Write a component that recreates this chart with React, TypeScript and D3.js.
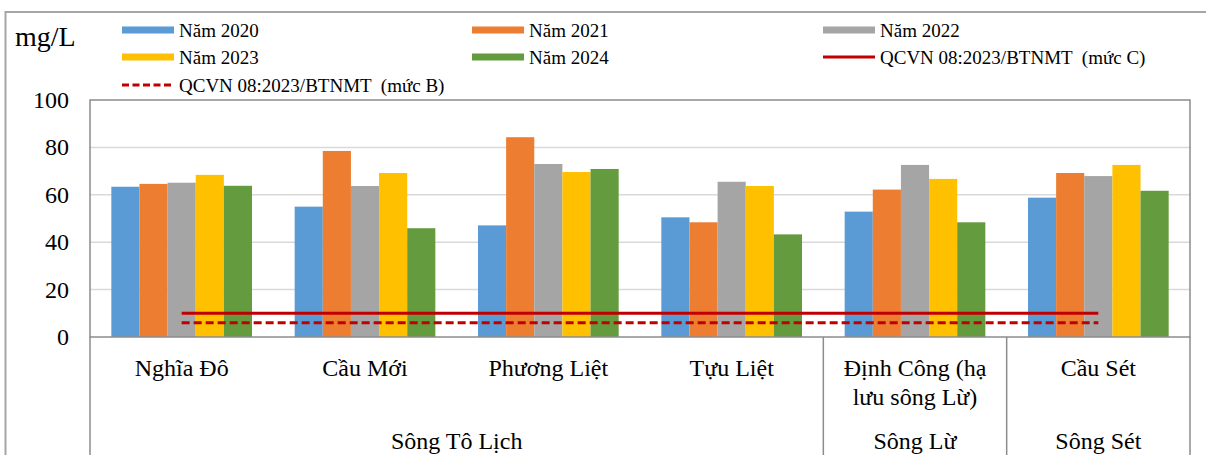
import React from "react";
import * as d3 from "d3";

const categories = ["Nghĩa Đô", "Cầu Mới", "Phương Liệt", "Tựu Liệt", "Định Công (hạ lưu sông Lừ)", "Cầu Sét"];
const categoryLines = [["Nghĩa Đô"], ["Cầu Mới"], ["Phương Liệt"], ["Tựu Liệt"], ["Định Công (hạ", "lưu sông Lừ)"], ["Cầu Sét"]];
const groupNames = ["Sông Tô Lịch", "Sông Lừ", "Sông Sét"];
const groupSpans = [4, 1, 1];

const seriesNames = ["Năm 2020", "Năm 2021", "Năm 2022", "Năm 2023", "Năm 2024"];
const seriesColors = ["#5B9BD5", "#ED7D31", "#A5A5A5", "#FFC000", "#659B3F"];
const y2020 = [63.4, 55.0, 47.1, 50.5, 52.9, 58.8];
const y2021 = [64.6, 78.5, 84.3, 48.4, 62.2, 69.2];
const y2022 = [65.1, 63.7, 73.0, 65.5, 72.6, 67.9];
const y2023 = [68.4, 69.2, 69.6, 63.7, 66.7, 72.6];
const y2024 = [63.8, 45.9, 70.9, 43.3, 48.4, 61.7];
const seriesValues = [y2020, y2021, y2022, y2023, y2024];

const levelC = [10, 10, 10, 10, 10, 10];
const levelB = [6, 6, 6, 6, 6, 6];
const levelCName = "QCVN 08:2023/BTNMT  (mức C)";
const levelBName = "QCVN 08:2023/BTNMT  (mức B)";

const yTicks = [0, 20, 40, 60, 80, 100];
const unitLabel = "mg/L";

const W = 1206;
const H = 455;
const plot = { left: 90, right: 1190, top: 100, bottom: 337 };
const FONT = "Liberation Serif";
const RED = "#C00000";

export default function App() {
  const x0 = d3.scaleBand<string>().domain(categories).range([plot.left, plot.right]).paddingInner(0).paddingOuter(0);
  const x1 = d3.scaleBand<string>().domain(seriesNames).range([0, x0.bandwidth()]).paddingInner(0).paddingOuter(0.758);
  const y = d3.scaleLinear().domain([0, 100]).range([plot.bottom, plot.top]);

  const lineGen = d3
    .line<number>()
    .x((_, i) => (x0(categories[i]) as number) + x0.bandwidth() / 2)
    .y((d) => y(d));

  const colX = [122, 472, 823];
  const rowY = [30, 57, 85];
  const swW = 52;
  type LegItem = { name: string; kind: "bar" | "solid" | "dash"; color: string };
  const legItems: LegItem[] = [
    ...seriesNames.map((n, i) => ({ name: n, kind: "bar" as const, color: seriesColors[i] })),
    { name: levelCName, kind: "solid", color: RED },
    { name: levelBName, kind: "dash", color: RED },
  ];

  let acc = 0;
  const groupBounds = groupSpans.map((s) => {
    const start = x0(categories[acc]) as number;
    const endCat = categories[acc + s - 1];
    const end = (x0(endCat) as number) + x0.bandwidth();
    acc += s;
    return { start, end };
  });

  return (
    <svg width={W} height={H} style={{ position: "fixed", left: 0, top: 0, display: "block", background: "#fff" }}>
      <rect x={0} y={0} width={W} height={H} fill="#fff" />
      <rect x={5.5} y={12} width={W + 50} height={H + 50} fill="none" stroke="#A6A6A6" strokeWidth={2} />

      <text x={15} y={46} fontSize={28} fill="#000" fontFamily={FONT}>{unitLabel}</text>

      {legItems.map((it, i) => {
        const cx = colX[i % 3];
        const cy = rowY[Math.floor(i / 3)];
        return (
          <g key={it.name}>
            {it.kind === "bar" && <rect x={cx} y={cy - 3.5} width={swW} height={7} fill={it.color} />}
            {it.kind === "solid" && <line x1={cx} x2={cx + swW} y1={cy} y2={cy} stroke={it.color} strokeWidth={3} />}
            {it.kind === "dash" && (
              <line x1={cx} x2={cx + swW} y1={cy} y2={cy} stroke={it.color} strokeWidth={3} strokeDasharray="7,3.5" />
            )}
            <text x={cx + swW + 5} y={cy} dominantBaseline="central" fontSize={19} fill="#000" fontFamily={FONT} style={{ whiteSpace: "pre" }}>
              {it.name}
            </text>
          </g>
        );
      })}

      {yTicks.filter((t) => t > 0 && t < 100).map((t) => (
        <line key={t} x1={plot.left} x2={plot.right} y1={y(t)} y2={y(t)} stroke="#D9D9D9" strokeWidth={1.5} />
      ))}

      {yTicks.map((t) => (
        <text key={t} x={69} y={y(t)} textAnchor="end" dominantBaseline="central" fontSize={24} fill="#000" fontFamily={FONT}>
          {t}
        </text>
      ))}

      {seriesValues.map((vals, si) => (
        <g key={seriesNames[si]} fill={seriesColors[si]}>
          {vals.map((v, ci) => (
            <rect
              key={ci}
              x={(x0(categories[ci]) as number) + (x1(seriesNames[si]) as number)}
              y={y(v)}
              width={x1.bandwidth()}
              height={y(0) - y(v)}
            />
          ))}
        </g>
      ))}

      <path d={lineGen(levelC) || ""} fill="none" stroke={RED} strokeWidth={3} />
      <path d={lineGen(levelB) || ""} fill="none" stroke={RED} strokeWidth={3} strokeDasharray="8,4" />

      <rect x={plot.left} y={plot.top} width={plot.right - plot.left} height={plot.bottom - plot.top} fill="none" stroke="#8C8C8C" strokeWidth={1.5} />

      <line x1={plot.left} x2={plot.left} y1={plot.bottom} y2={H} stroke="#8C8C8C" strokeWidth={1.5} />
      {groupBounds.map((g, i) => (
        <line key={i} x1={g.end} x2={g.end} y1={plot.bottom} y2={H} stroke="#8C8C8C" strokeWidth={1.5} />
      ))}

      {categoryLines.map((lines, ci) => (
        <text key={ci} x={(x0(categories[ci]) as number) + x0.bandwidth() / 2} textAnchor="middle" fontSize={24} fill="#000" fontFamily={FONT}>
          {lines.map((ln, li) => (
            <tspan key={li} x={(x0(categories[ci]) as number) + x0.bandwidth() / 2} y={368 + li * 29} dominantBaseline="central">
              {ln}
            </tspan>
          ))}
        </text>
      ))}

      {groupNames.map((g, gi) => (
        <text key={g} x={(groupBounds[gi].start + groupBounds[gi].end) / 2} y={441} textAnchor="middle" dominantBaseline="central" fontSize={24} fill="#000" fontFamily={FONT}>
          {g}
        </text>
      ))}
    </svg>
  );
}
